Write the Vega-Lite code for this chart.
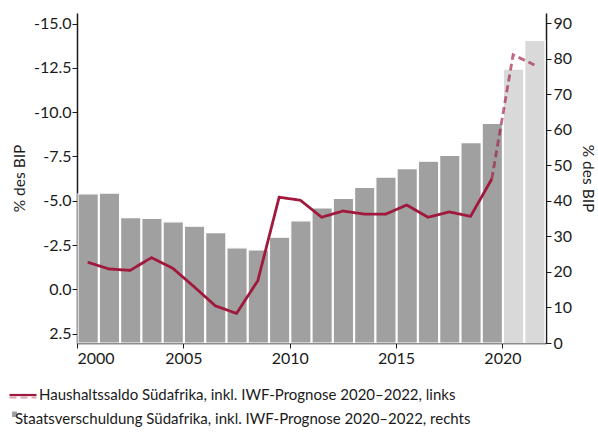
{
  "$schema": "https://vega.github.io/schema/vega-lite/v6.json",
  "width": 469,
  "height": 330,
  "autosize": "none",
  "padding": {"left": 77, "top": 13, "right": 52, "bottom": 105},
  "background": "white",
  "config": {
    "view": {"stroke": null},
    "font": "Lato",
    "axis": {
      "labelFont": "Lato",
      "labelFontSize": 16,
      "labelColor": "#1a1a1a",
      "titleFont": "Lato",
      "titleFontSize": 15.5,
      "titleFontWeight": "normal",
      "titleColor": "#1a1a1a",
      "domainColor": "#1a1a1a",
      "domainWidth": 1.5,
      "tickColor": "#1a1a1a",
      "tickSize": 5,
      "grid": false
    },
    "legend": {
      "title": null,
      "rowPadding": 0,
      "labelFont": "Lato",
      "labelFontSize": 15,
      "labelColor": "#1a1a1a",
      "labelLimit": 600
    }
  },
  "datasets": {
    "schuld": [
      {"year": "2000", "value": 42.0, "phase": "Ist", "series": "Staatsverschuldung Südafrika, inkl. IWF-Prognose 2020–2022, rechts"},
      {"year": "2001", "value": 42.2, "phase": "Ist", "series": "Staatsverschuldung Südafrika, inkl. IWF-Prognose 2020–2022, rechts"},
      {"year": "2002", "value": 35.3, "phase": "Ist", "series": "Staatsverschuldung Südafrika, inkl. IWF-Prognose 2020–2022, rechts"},
      {"year": "2003", "value": 35.1, "phase": "Ist", "series": "Staatsverschuldung Südafrika, inkl. IWF-Prognose 2020–2022, rechts"},
      {"year": "2004", "value": 34.1, "phase": "Ist", "series": "Staatsverschuldung Südafrika, inkl. IWF-Prognose 2020–2022, rechts"},
      {"year": "2005", "value": 32.9, "phase": "Ist", "series": "Staatsverschuldung Südafrika, inkl. IWF-Prognose 2020–2022, rechts"},
      {"year": "2006", "value": 31.1, "phase": "Ist", "series": "Staatsverschuldung Südafrika, inkl. IWF-Prognose 2020–2022, rechts"},
      {"year": "2007", "value": 26.8, "phase": "Ist", "series": "Staatsverschuldung Südafrika, inkl. IWF-Prognose 2020–2022, rechts"},
      {"year": "2008", "value": 26.2, "phase": "Ist", "series": "Staatsverschuldung Südafrika, inkl. IWF-Prognose 2020–2022, rechts"},
      {"year": "2009", "value": 29.8, "phase": "Ist", "series": "Staatsverschuldung Südafrika, inkl. IWF-Prognose 2020–2022, rechts"},
      {"year": "2010", "value": 34.4, "phase": "Ist", "series": "Staatsverschuldung Südafrika, inkl. IWF-Prognose 2020–2022, rechts"},
      {"year": "2011", "value": 38.0, "phase": "Ist", "series": "Staatsverschuldung Südafrika, inkl. IWF-Prognose 2020–2022, rechts"},
      {"year": "2012", "value": 40.7, "phase": "Ist", "series": "Staatsverschuldung Südafrika, inkl. IWF-Prognose 2020–2022, rechts"},
      {"year": "2013", "value": 43.8, "phase": "Ist", "series": "Staatsverschuldung Südafrika, inkl. IWF-Prognose 2020–2022, rechts"},
      {"year": "2014", "value": 46.7, "phase": "Ist", "series": "Staatsverschuldung Südafrika, inkl. IWF-Prognose 2020–2022, rechts"},
      {"year": "2015", "value": 49.1, "phase": "Ist", "series": "Staatsverschuldung Südafrika, inkl. IWF-Prognose 2020–2022, rechts"},
      {"year": "2016", "value": 51.2, "phase": "Ist", "series": "Staatsverschuldung Südafrika, inkl. IWF-Prognose 2020–2022, rechts"},
      {"year": "2017", "value": 52.8, "phase": "Ist", "series": "Staatsverschuldung Südafrika, inkl. IWF-Prognose 2020–2022, rechts"},
      {"year": "2018", "value": 56.4, "phase": "Ist", "series": "Staatsverschuldung Südafrika, inkl. IWF-Prognose 2020–2022, rechts"},
      {"year": "2019", "value": 61.8, "phase": "Ist", "series": "Staatsverschuldung Südafrika, inkl. IWF-Prognose 2020–2022, rechts"},
      {"year": "2020", "value": 77.1, "phase": "Prognose", "series": "Staatsverschuldung Südafrika, inkl. IWF-Prognose 2020–2022, rechts"},
      {"year": "2021", "value": 85.2, "phase": "Prognose", "series": "Staatsverschuldung Südafrika, inkl. IWF-Prognose 2020–2022, rechts"}
    ],
    "saldo": [
      {"year": "2000", "value": -1.53, "phase": "Ist", "series": "Haushaltssaldo Südafrika, inkl. IWF-Prognose 2020–2022, links"},
      {"year": "2001", "value": -1.15, "phase": "Ist", "series": "Haushaltssaldo Südafrika, inkl. IWF-Prognose 2020–2022, links"},
      {"year": "2002", "value": -1.07, "phase": "Ist", "series": "Haushaltssaldo Südafrika, inkl. IWF-Prognose 2020–2022, links"},
      {"year": "2003", "value": -1.79, "phase": "Ist", "series": "Haushaltssaldo Südafrika, inkl. IWF-Prognose 2020–2022, links"},
      {"year": "2004", "value": -1.19, "phase": "Ist", "series": "Haushaltssaldo Südafrika, inkl. IWF-Prognose 2020–2022, links"},
      {"year": "2005", "value": -0.15, "phase": "Ist", "series": "Haushaltssaldo Südafrika, inkl. IWF-Prognose 2020–2022, links"},
      {"year": "2006", "value": 0.93, "phase": "Ist", "series": "Haushaltssaldo Südafrika, inkl. IWF-Prognose 2020–2022, links"},
      {"year": "2007", "value": 1.36, "phase": "Ist", "series": "Haushaltssaldo Südafrika, inkl. IWF-Prognose 2020–2022, links"},
      {"year": "2008", "value": -0.49, "phase": "Ist", "series": "Haushaltssaldo Südafrika, inkl. IWF-Prognose 2020–2022, links"},
      {"year": "2009", "value": -5.2, "phase": "Ist", "series": "Haushaltssaldo Südafrika, inkl. IWF-Prognose 2020–2022, links"},
      {"year": "2010", "value": -5.03, "phase": "Ist", "series": "Haushaltssaldo Südafrika, inkl. IWF-Prognose 2020–2022, links"},
      {"year": "2011", "value": -4.07, "phase": "Ist", "series": "Haushaltssaldo Südafrika, inkl. IWF-Prognose 2020–2022, links"},
      {"year": "2012", "value": -4.42, "phase": "Ist", "series": "Haushaltssaldo Südafrika, inkl. IWF-Prognose 2020–2022, links"},
      {"year": "2013", "value": -4.25, "phase": "Ist", "series": "Haushaltssaldo Südafrika, inkl. IWF-Prognose 2020–2022, links"},
      {"year": "2014", "value": -4.24, "phase": "Ist", "series": "Haushaltssaldo Südafrika, inkl. IWF-Prognose 2020–2022, links"},
      {"year": "2015", "value": -4.76, "phase": "Ist", "series": "Haushaltssaldo Südafrika, inkl. IWF-Prognose 2020–2022, links"},
      {"year": "2016", "value": -4.07, "phase": "Ist", "series": "Haushaltssaldo Südafrika, inkl. IWF-Prognose 2020–2022, links"},
      {"year": "2017", "value": -4.37, "phase": "Ist", "series": "Haushaltssaldo Südafrika, inkl. IWF-Prognose 2020–2022, links"},
      {"year": "2018", "value": -4.12, "phase": "Ist", "series": "Haushaltssaldo Südafrika, inkl. IWF-Prognose 2020–2022, links"},
      {"year": "2019", "value": -6.23, "phase": "Ist", "series": "Haushaltssaldo Südafrika, inkl. IWF-Prognose 2020–2022, links"},
      {"year": "2019", "value": -6.23, "phase": "Prognose", "series": "Haushaltssaldo Südafrika, inkl. IWF-Prognose 2020–2022, links"},
      {"year": "2020", "value": -13.24, "phase": "Prognose", "series": "Haushaltssaldo Südafrika, inkl. IWF-Prognose 2020–2022, links"},
      {"year": "2021", "value": -12.67, "phase": "Prognose", "series": "Haushaltssaldo Südafrika, inkl. IWF-Prognose 2020–2022, links"}
    ]
  },
  "layer": [
    {
      "data": {"name": "schuld"},
      "mark": {"type": "bar", "stroke": "white", "strokeWidth": 1.2, "color": "#a0a0a0"},
      "encoding": {
        "x": {
          "field": "year",
          "type": "temporal",
          "timeUnit": "utcyear",
          "scale": {"domain": [{"year": 2000, "utc": true}, {"year": 2022, "month": 1, "date": 18, "utc": true}], "nice": false},
          "axis": {
            "title": null,
            "format": "%Y",
            "values": [{"year": 2000, "utc": true}, {"year": 2005, "utc": true}, {"year": 2010, "utc": true}, {"year": 2015, "utc": true}, {"year": 2020, "utc": true}],
            "labelPadding": 2
          }
        },
        "y": {
          "field": "value",
          "type": "quantitative",
          "scale": {"domain": [0, 92.9], "nice": false, "zero": false},
          "axis": {
            "orient": "right",
            "title": "% des BIP",
            "titleAngle": 90,
            "titlePadding": 8,
            "values": [0, 10, 20, 30, 40, 50, 60, 70, 80, 90],
            "format": "d",
            "labelPadding": 2
          }
        },
        "fill": {
          "field": "series",
          "type": "nominal",
          "scale": {"range": ["#a0a0a0"]},
          "legend": {
            "orient": "none",
            "legendX": -69,
            "legendY": 398,
            "symbolType": "M-1,-2H0.43V-0.43H-1Z",
            "symbolSize": 49,
            "symbolStrokeWidth": 0,
            "symbolStrokeColor": "transparent",
            "labelOffset": -8
          }
        },
        "fillOpacity": {
          "field": "phase",
          "type": "nominal",
          "scale": {"domain": ["Ist", "Prognose"], "range": [1, 0.4]},
          "legend": {
            "orient": "none",
            "legendX": -69,
            "legendY": 398,
            "values": ["Prognose"],
            "symbolType": "M-1,-0.2H0.43V2H-1Z",
            "symbolSize": 49,
            "symbolFillColor": "#a0a0a0",
            "symbolStrokeWidth": 0,
            "symbolStrokeColor": "transparent",
            "labelOffset": -8,
            "labelExpr": "' '"
          }
        }
      }
    },
    {
      "data": {"name": "saldo"},
      "mark": {"type": "line", "strokeWidth": 2.8, "strokeJoin": "miter", "color": "#c8758d"},
      "encoding": {
        "x": {"field": "year", "type": "temporal", "timeUnit": "utcyear", "bandPosition": 0.5},
        "y": {
          "field": "value",
          "type": "quantitative",
          "scale": {"domain": [-15.6, 3.03], "reverse": true, "nice": false, "zero": false},
          "axis": {
            "orient": "left",
            "title": "% des BIP",
            "titlePadding": 6,
            "values": [-15, -12.5, -10, -7.5, -5, -2.5, 0, 2.5],
            "labelExpr": "replace(format(datum.value, '.1f'), '\u2212', '-')",
            "labelPadding": 1
          }
        },
        "stroke": {
          "field": "series",
          "type": "nominal",
          "scale": {"range": ["#a0183c"]},
          "legend": {
            "orient": "none",
            "legendX": -69,
            "legendY": 367,
            "symbolType": "M-1,0H1",
            "symbolSize": 729,
            "symbolStrokeWidth": 2.2,
            "labelOffset": 1
          }
        },
        "strokeDash": {
          "field": "phase",
          "type": "nominal",
          "scale": {"domain": ["Ist", "Prognose"], "range": [[1, 0], [7, 4]]},
          "legend": {
            "orient": "none",
            "legendX": -69,
            "legendY": 369.5,
            "values": ["Prognose"],
            "symbolType": "M-1,0H1",
            "symbolSize": 729,
            "symbolStrokeWidth": 2.2,
            "symbolStrokeColor": "#c8758d",
            "labelOffset": 1,
            "labelExpr": "' '"
          }
        },
        "opacity": {
          "field": "phase",
          "type": "nominal",
          "scale": {"domain": ["Ist", "Prognose"], "range": [1, 0.65]},
          "legend": null
        }
      }
    }
  ],
  "resolve": {"scale": {"y": "independent"}}
}
